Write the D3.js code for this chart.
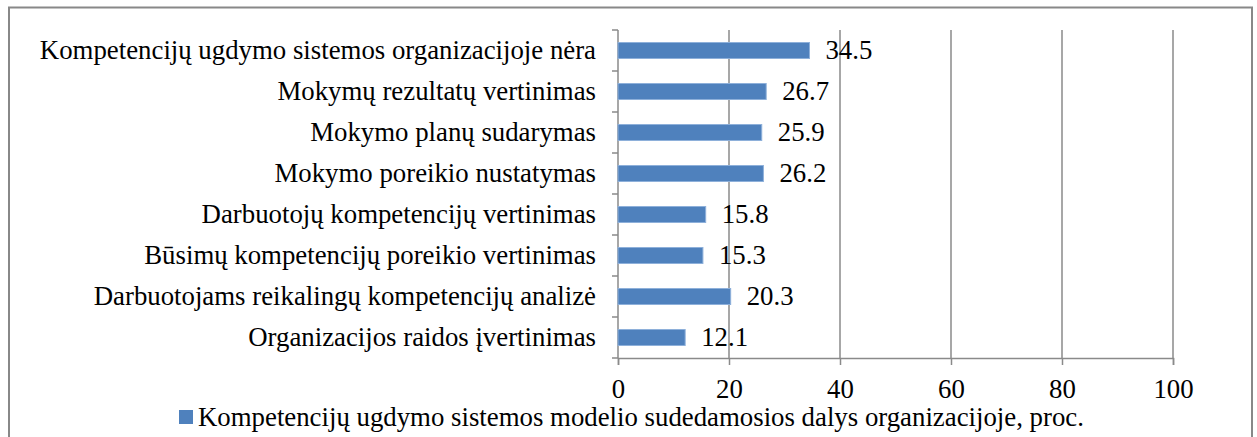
<!DOCTYPE html>
<html>
<head>
<meta charset="utf-8">
<script src="https://cdn.jsdelivr.net/npm/d3@7"></script>
<style>
  body { margin: 0; background: #fff; }
</style>
</head>
<body>
<script>
// categories top to bottom
var categories = [
    "Kompetencijų ugdymo sistemos organizacijoje nėra",
    "Mokymų rezultatų vertinimas",
    "Mokymo planų sudarymas",
    "Mokymo poreikio nustatymas",
    "Darbuotojų kompetencijų vertinimas",
    "Būsimų kompetencijų poreikio vertinimas",
    "Darbuotojams reikalingų kompetencijų analizė",
    "Organizacijos raidos įvertinimas"
];
var values = [34.5, 26.7, 25.9, 26.2, 15.8, 15.3, 20.3, 12.1];
var xTicks = [0, 20, 40, 60, 80, 100];
var seriesName = "Kompetencijų ugdymo sistemos modelio sudedamosios dalys organizacijoje, proc.";

var FONT = "Liberation Serif";
var FS = 26.8;

var W = 1257, H = 437;
var margin = {top: 30, left: 618, right: 84, bottom: 79},
    width = W - margin.left - margin.right,
    height = H - margin.top - margin.bottom;

var svg = d3.select("body").append("svg")
    .attr("width", W)
    .attr("height", H);

// outer frame
svg.append("rect")
    .attr("x", 9).attr("y", 7.5)
    .attr("width", 1243).attr("height", 440)
    .attr("fill", "none")
    .attr("stroke", "#888")
    .attr("stroke-width", 2);

var g = svg.append("g")
    .attr("transform", "translate(" + margin.left + "," + margin.top + ")");

var x = d3.scaleLinear().domain([0, 100]).range([0, width]);
var y = d3.scaleBand().domain(categories).range([0, height]).paddingInner(0).paddingOuter(0);

// vertical gridlines
g.selectAll(".grid")
    .data(xTicks.slice(1))
    .enter().append("line")
    .attr("x1", function(d) { return x(d); })
    .attr("x2", function(d) { return x(d); })
    .attr("y1", 0)
    .attr("y2", height)
    .attr("stroke", "#8a8a8a")
    .attr("stroke-width", 1.5);

// bottom axis
var xAxis = g.append("g")
    .attr("transform", "translate(0," + height + ")")
    .call(d3.axisBottom(x).tickValues(xTicks).tickSize(7).tickPadding(14));
xAxis.attr("font-family", FONT).attr("font-size", FS);
xAxis.select(".domain").attr("stroke", "#8a8a8a").attr("stroke-width", 1.5);
xAxis.selectAll(".tick line").attr("stroke", "#8a8a8a").attr("stroke-width", 1.5);
xAxis.selectAll(".tick text").attr("fill", "#000");

// left axis: ticks at band boundaries
var boundaries = d3.range(categories.length + 1).map(function(i) { return i * y.bandwidth(); });
g.append("line")
    .attr("x1", 0).attr("x2", 0)
    .attr("y1", 0).attr("y2", height)
    .attr("stroke", "#8a8a8a").attr("stroke-width", 1.5);
g.selectAll(".ytick")
    .data(boundaries)
    .enter().append("line")
    .attr("x1", -6).attr("x2", 0)
    .attr("y1", function(d) { return d; })
    .attr("y2", function(d) { return d; })
    .attr("stroke", "#8a8a8a").attr("stroke-width", 1.5);

g.selectAll(".ylabel")
    .data(categories)
    .enter().append("text")
    .attr("x", -22)
    .attr("y", function(d) { return y(d) + y.bandwidth() / 2; })
    .attr("dy", "0.32em")
    .attr("text-anchor", "end")
    .attr("font-family", FONT)
    .attr("font-size", FS)
    .text(function(d) { return d; });

// bars
var barH = 16;
g.selectAll(".bar")
    .data(values)
    .enter().append("rect")
    .attr("x", 0)
    .attr("y", function(d, i) { return y(categories[i]) + y.bandwidth() / 2 - barH / 2; })
    .attr("width", function(d) { return x(d); })
    .attr("height", barH)
    .attr("fill", "#4f81bd")
    .attr("stroke", "#8eb0da")
    .attr("stroke-width", 1);

// value labels
g.selectAll(".val")
    .data(values)
    .enter().append("text")
    .attr("x", function(d) { return x(d) + 16; })
    .attr("y", function(d, i) { return y(categories[i]) + y.bandwidth() / 2; })
    .attr("dy", "0.32em")
    .attr("font-family", FONT)
    .attr("font-size", FS)
    .text(function(d) { return d3.format(".1f")(d); });

// legend
var legend = svg.append("g").attr("transform", "translate(179,410)");
legend.append("rect")
    .attr("width", 14).attr("height", 14)
    .attr("fill", "#4f81bd");
legend.append("text")
    .attr("x", 19).attr("y", 7)
    .attr("dy", "0.32em")
    .attr("font-family", FONT)
    .attr("font-size", FS)
    .text(seriesName);
</script>
</body>
</html>
